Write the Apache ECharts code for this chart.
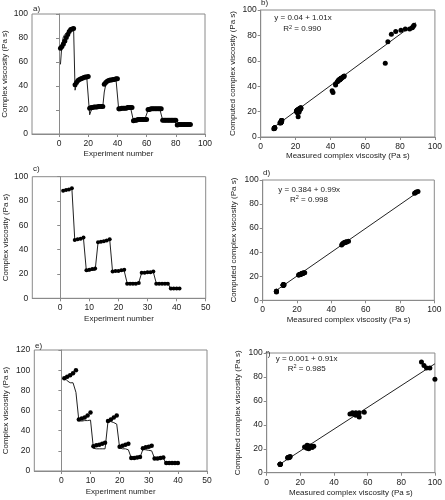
<!DOCTYPE html>
<html><head><meta charset="utf-8">
<script src="https://cdn.jsdelivr.net/npm/echarts@6/dist/echarts.min.js"></script>
<style>html,body{margin:0;padding:0;background:#fff}#c{width:445px;height:500px}</style>
</head><body><div id="c"></div>
<script>
// ---------- data ----------
const aMeasured = [
  71.5, 73, 75, 77.5, 80.5, 83, 85.5, 87, 87.5, 88,
  41, 43, 44.5, 45.5, 46, 46.5, 47, 47.5, 47.5, 48,
  21.5, 22, 22, 22.5, 22.5, 22.5, 23, 23, 23, 23,
  41.5, 43, 44, 44.5, 45, 45, 45.5, 45.5, 46, 46,
  21, 21, 21.5, 21.5, 21.5, 21.5, 22, 22, 22, 22,
  11, 11.5, 11.5, 12, 12, 12, 12, 12, 12, 12,
  20.5, 20.5, 21, 21, 21, 21, 21, 21, 21, 21,
  11.5, 11.5, 11.5, 11.5, 11.5, 11.5, 11.5, 11.5, 11.5, 11.5,
  7.5, 8, 8, 8, 8, 8, 8, 8, 8, 8
];
const aComputed = [
  58, 75, 81, 83, 84, 85, 85, 86, 87, 88,
  36.5, 42, 44, 45, 46, 46.5, 47, 47.5, 47.5, 48,
  16, 19.5, 21, 21.5, 22, 22, 22.5, 22.5, 23, 23,
  35, 41, 43.5, 44.5, 45, 45, 45.5, 45.5, 46, 46,
  19, 20, 21, 21, 21.5, 21.5, 22, 22, 22, 22,
  11, 11, 11.5, 12, 12.5, 13, 13, 13, 13, 13,
  20, 20.5, 21, 21, 21, 21, 21, 21, 21, 21,
  11.5, 11.5, 11.5, 11.5, 11.5, 11.5, 11.5, 11.5, 11.5, 11.5,
  6.5, 7, 7, 7, 7, 7, 7, 7, 7, 7
];
const cMeasured = [
  88.5, 89, 89.5, 90.5,
  48, 48.5, 49, 50,
  23, 23.5, 24, 24.5,
  46, 46.5, 47, 47.5, 48.5,
  22, 22.5, 22.5, 23, 23.5,
  12, 12, 12, 12, 12.5,
  21, 21, 21.5, 21.5, 22,
  12, 12, 12, 12, 12,
  8, 8, 8, 8
];
const cComputed = [
  89, 89.5, 90, 90.5,
  48, 48.5, 48.5, 49,
  22, 22.5, 23, 23,
  46, 47, 47.5, 48, 48.5,
  21.5, 22, 22, 22.5, 22.5,
  12.5, 13, 13, 13, 13,
  21, 21, 21.5, 21.5, 21.5,
  12.5, 12.5, 12.5, 13, 13,
  7, 7.5, 7.5, 7.5
];
const eMeasured = [
  92, 93.5, 95, 97, 100,
  51, 52, 53, 55, 58,
  24.5, 25.5, 26, 27, 28,
  49.5, 51, 53, 55,
  24, 25, 26, 27,
  13, 13, 13.5, 14,
  22.5, 23.5, 24, 25,
  12.5, 12.5, 13, 13.5,
  8, 8, 8, 8, 8
];
const eComputed = [
  92.5, 89.5, 87.5, 87.5, 78,
  50, 49.5, 50, 50, 50.5,
  22.5, 22, 22, 22, 22,
  49, 49, 48, 46.5,
  23, 22, 22, 21,
  13, 13, 13, 13.5,
  21.5, 21, 20.5, 20,
  12.5, 12.5, 12.5, 13,
  7, 7, 7, 7, 7
];
const bFitCoef = [0.04, 1.01];   const bFitX = [8, 89];
const dFitCoef = [0.384, 0.99];  const dFitX = [8, 91];
const fFitCoef = [0.001, 0.91];  const fFitX = [8, 100];
const ticks100 = [0, 20, 40, 60, 80, 100];
const ticks50 = [0, 10, 20, 30, 40, 50];
const panelLabels = ['a)', 'b)', 'c)', 'd)', 'e)', 'f)'];
const eqTexts = ['y = 0.04 + 1.01x', 'y = 0.384 + 0.99x', 'y = 0.001 + 0.91x'];
const r2Texts = ['0.990', '0.998', '0.985'];
const xTitleSeq = 'Experiment number';
const xTitleSc = 'Measured complex viscosity (Pa s)';
const yTitleSeq = 'Complex viscosity (Pa s)';
const yTitleSc = 'Computed complex viscosity (Pa s)';

// ---------- helpers ----------
const FONT = '"Liberation Sans", Arial, sans-serif';
const TXT = '#222';
const AX = '#8a8a8a';
const seqPts = arr => arr.map((v, i) => [i + 1, v]);
const pairs = (m, c) => m.map((v, i) => [v, c[i]]);
const fitLine = (coef, xr) => xr.map(x => [x, coef[0] + coef[1] * x]);

const grids = [
  {left: 32,    top: 14,  width: 173,   height: 120},
  {left: 260.7, top: 10,  width: 175,   height: 127},
  {left: 32.3,  top: 176.7, width: 173.4, height: 121.6},
  {left: 262.7, top: 180, width: 171.6, height: 120.3},
  {left: 34.3,  top: 350, width: 172.7, height: 121},
  {left: 266.7, top: 353, width: 169,   height: 119.7}
].map(g => Object.assign({show: true, borderColor: AX, borderWidth: 1, containLabel: false}, g));

function xAxis(i, min, max, custom, name, gap) {
  const o = {
    gridIndex: i, type: 'value', min, max,
    name, nameLocation: 'middle', nameGap: gap,
    nameTextStyle: {fontSize: 8, color: TXT, fontFamily: FONT},
    axisLine: {show: true, lineStyle: {color: AX, width: 1}},
    axisTick: {show: true, inside: false, length: 3, lineStyle: {color: AX}},
    axisLabel: {fontSize: 8.5, color: TXT, fontFamily: FONT, margin: 5},
    splitLine: {show: false}
  };
  if (custom) {
    o.axisLabel.customValues = custom;
    o.axisTick.customValues = custom;
  } else {
    o.interval = 20;
  }
  return o;
}
function yAxis(i, max, name, gap) {
  return {
    gridIndex: i, type: 'value', min: 0, max, interval: 20,
    name, nameLocation: 'middle', nameGap: gap,
    nameTextStyle: {fontSize: 8, color: TXT, fontFamily: FONT},
    axisLine: {show: true, lineStyle: {color: AX, width: 1}},
    axisTick: {show: true, inside: false, length: 3, lineStyle: {color: AX}},
    axisLabel: {fontSize: 8.5, color: TXT, fontFamily: FONT, margin: 4},
    splitLine: {show: false}
  };
}

const xAxes = [
  xAxis(0, -18.5, 100, ticks100, xTitleSeq, 16),
  xAxis(1, 0, 100, null, xTitleSc, 15),
  xAxis(2, -9.6, 50, ticks50, xTitleSeq, 16.5),
  xAxis(3, 0, 100, null, xTitleSc, 15.5),
  xAxis(4, -9.3, 50, ticks50, xTitleSeq, 17),
  xAxis(5, 0, 100, null, xTitleSc, 16)
];
const yAxes = [
  yAxis(0, 100, yTitleSeq, 23),
  yAxis(1, 100, yTitleSc, 24),
  yAxis(2, 100, yTitleSeq, 23),
  yAxis(3, 100, yTitleSc, 25),
  yAxis(4, 120, yTitleSeq, 24.5),
  yAxis(5, 100, yTitleSc, 24.5)
];

const dot = (i, data, size) => ({
  type: 'scatter', xAxisIndex: i, yAxisIndex: i, data,
  symbol: 'circle', symbolSize: size, itemStyle: {color: '#000', opacity: 1}, z: 3
});
const line = (i, data) => ({
  type: 'line', xAxisIndex: i, yAxisIndex: i, data,
  showSymbol: false, symbol: 'none', lineStyle: {color: '#222', width: 1}, z: 2
});

const series = [
  dot(0, seqPts(aMeasured), 5), line(0, seqPts(aComputed)),
  dot(1, pairs(aMeasured, aComputed), 5), line(1, fitLine(bFitCoef, bFitX)),
  dot(2, seqPts(cMeasured), 4), line(2, seqPts(cComputed)),
  dot(3, pairs(cMeasured, cComputed), 5), line(3, fitLine(dFitCoef, dFitX)),
  dot(4, seqPts(eMeasured), 4.5), line(4, seqPts(eComputed)),
  dot(5, pairs(eMeasured, eComputed), 5), line(5, fitLine(fFitCoef, fFitX))
];

const labelPos = [[33, 5], [261, -1], [33, 164.5], [263, 168.5], [35, 341.5], [265.5, 350]];
const eqPos = [[274.3, 13.8], [278.3, 186], [275.7, 354.8]];
const r2Pos = [[283.3, 24], [290, 194.7], [287.7, 363.5]];
const graphic = [];
panelLabels.forEach((t, i) => graphic.push({
  type: 'text', left: labelPos[i][0], top: labelPos[i][1],
  style: {text: t, fontSize: 8, fill: TXT, fontFamily: FONT}
}));
eqTexts.forEach((t, i) => {
  graphic.push({type: 'text', left: eqPos[i][0], top: eqPos[i][1],
    style: {text: t, fontSize: 8, fill: TXT, fontFamily: FONT}});
  graphic.push({type: 'text', left: r2Pos[i][0], top: r2Pos[i][1],
    style: {text: 'R{s|2} = ' + r2Texts[i], fontSize: 8, fill: TXT, fontFamily: FONT,
      rich: {s: {fontSize: 5.5, fill: TXT, fontFamily: FONT, verticalAlign: 'top', padding: [0, 0, 4, 0]}}}});
});

const chart = echarts.init(document.getElementById('c'), null, {renderer: 'canvas'});
chart.setOption({
  animation: false,
  backgroundColor: '#fff',
  grid: grids, xAxis: xAxes, yAxis: yAxes, series, graphic
});
</script></body></html>
